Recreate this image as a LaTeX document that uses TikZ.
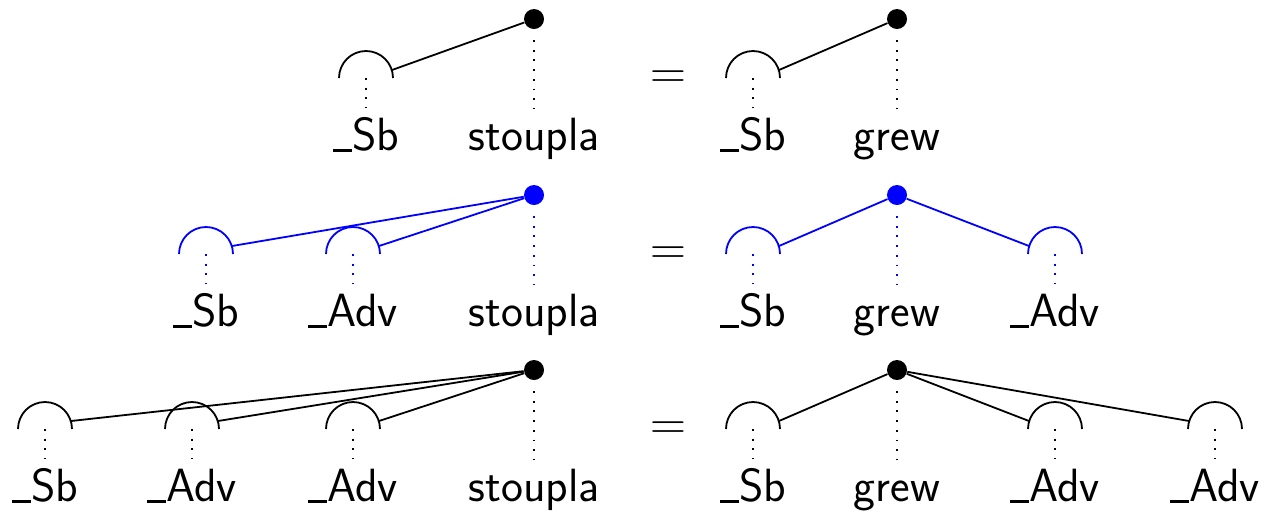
\documentclass[tikz,border=0pt]{standalone}
\usetikzlibrary{calc}
% low bar before a slot label
\newcommand{\uscore}{\rule[-0.8pt]{9.5pt}{1.5pt}}
% a valency slot: half circle over the word, with its two hooks
\newcommand{\valslot}[4]{%
  \draw[hook, #4] (#2-27,#3-72) arc[start angle=180, end angle=0, radius=13.5pt];
  \coordinate (#1-l) at (#2-26,#3-80);
  \coordinate (#1-r) at (#2+26,#3-80);
  \draw[proj, #4] (#2,#3-72) -- (#2,#3-42);
}
% the governing word: a dot above it
\newcommand{\headdot}[4]{%
  \node[head, #4] (#1) at (#2,#3-131) {};
  \draw[proj, #4] (#2,#3-110) -- (#2,#3-42);
}

\begin{document}
\begin{tikzpicture}[
  x=0.5pt, y=-0.5pt,
  font=\sffamily\fontsize{23.3}{28}\selectfont,
  word/.style={anchor=base, inner sep=0pt},
  head/.style={circle, fill, inner sep=0pt, minimum size=10pt},
  hook/.style={line width=0.9pt},
  link/.style={line width=0.9pt},
  proj/.style={line width=0.9pt, dash pattern=on 0.9pt off 3.95pt},
]
  \useasboundingbox (0,0) rectangle (1268,510);

  % row 1
  \foreach \n/\x/\t in {a/366/\uscore Sb, b/534/stoupla, e/753/\uscore Sb, f/897/grew}
    \node[word] (w1\n) at (\x,150) {\t};
  \foreach \n/\x in {a/366, e/753} \valslot{s1\n}{\x}{150}{black};
  \headdot{h1b}{534}{150}{black}
  \headdot{h1f}{897}{150}{black}
  \draw[link] (h1b) -- (s1a-r);
  \draw[link] (h1f) -- (s1e-r);
  \node (eq1) at (668,80) {$=$};

  % row 2
  \foreach \n/\x/\t in {a/206/\uscore Sb, b/353/\uscore Adv, c/534/stoupla, e/753/\uscore Sb, f/897/grew, g/1055/\uscore Adv}
    \node[word] (w2\n) at (\x,326) {\t};
  \foreach \n/\x in {a/206, b/353, e/753, g/1055} \valslot{s2\n}{\x}{326}{blue};
  \headdot{h2c}{534}{326}{blue}
  \headdot{h2f}{897}{326}{blue}
  \foreach \s in {a,b} \draw[link, blue] (h2c) -- (s2\s-r);
  \draw[link, blue] (h2f) -- (s2e-r);
  \draw[link, blue] (h2f) -- (s2g-l);
  \node (eq2) at (668,256) {$=$};

  % row 3
  \foreach \n/\x/\t in {a/45/\uscore Sb, b/192/\uscore Adv, c/353/\uscore Adv, d/534/stoupla, e/753/\uscore Sb, f/897/grew, g/1055/\uscore Adv, h/1215/\uscore Adv}
    \node[word] (w3\n) at (\x,501) {\t};
  \foreach \n/\x in {a/45, b/192, c/353, e/753, g/1055, h/1215} \valslot{s3\n}{\x}{501}{black};
  \headdot{h3d}{534}{501}{black}
  \headdot{h3f}{897}{501}{black}
  \foreach \s in {a,b,c} \draw[link] (h3d) -- (s3\s-r);
  \draw[link] (h3f) -- (s3e-r);
  \foreach \s in {g,h} \draw[link] (h3f) -- (s3\s-l);
  \node (eq3) at (668,431) {$=$};
\end{tikzpicture}
\end{document}
